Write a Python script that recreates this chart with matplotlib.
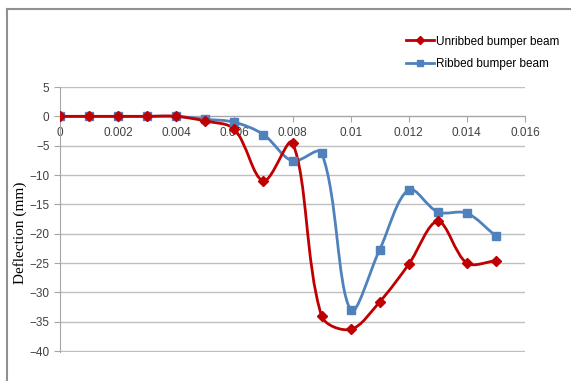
import numpy as np
import matplotlib.pyplot as plt
from matplotlib.path import Path
from matplotlib.patches import PathPatch
from matplotlib.lines import Line2D

# displacement / time values
x = [0, 0.001, 0.002, 0.003, 0.004, 0.005, 0.006, 0.007,
     0.008, 0.009, 0.010, 0.011, 0.012, 0.013, 0.014, 0.015]
unribbed = [0, 0, 0, 0, 0, -0.8, -2.2, -11.0,
            -4.5, -34.0, -36.3, -31.6, -25.2, -17.9, -25.0, -24.6]
ribbed = [0, 0, 0, 0, 0, -0.5, -1.0, -3.1,
          -7.6, -6.2, -33.0, -22.7, -12.5, -16.3, -16.5, -20.4]

yticks = [5, 0, -5, -10, -15, -20, -25, -30, -35, -40]
xticks = [0, 0.002, 0.004, 0.006, 0.008, 0.01, 0.012, 0.014, 0.016]

red = '#C00000'
blue = '#4F81BD'


def smooth_path(ax, xs, ys):
    # Excel-style smoothed line: bezier segments, tangent lengths weighted
    # by the on-screen segment lengths
    p = np.column_stack([xs, ys]).astype(float)
    s = ax.transData.transform(p)
    n = len(p)
    d = np.hypot(*np.diff(s, axis=0).T)
    verts = [p[0]]
    codes = [Path.MOVETO]
    for i in range(n - 1):
        if i > 0:
            c1 = p[i] + (p[i + 1] - p[i - 1]) * d[i] / (d[i - 1] + d[i]) / 3
        else:
            c1 = p[i] + (p[i + 1] - p[i]) / 3
        if i + 2 < n:
            c2 = p[i + 1] - (p[i + 2] - p[i]) * d[i] / (d[i] + d[i + 1]) / 3
        else:
            c2 = p[i + 1] - (p[i + 1] - p[i]) / 3
        verts += [c1, c2, p[i + 1]]
        codes += [Path.CURVE4] * 3
    return Path(verts, codes)


fig = plt.figure(figsize=(5.71, 3.81), dpi=100)
ax = fig.add_axes([60 / 571, 29 / 381, 465 / 571, 265 / 381])

ax.set_xlim(0, 0.016)
ax.set_ylim(-40.15, 5)

for ys, c, m in [(ribbed, blue, 's'), (unribbed, red, 'D')]:
    ax.add_patch(PathPatch(smooth_path(ax, x, ys), fill=False, edgecolor=c, lw=2, zorder=3))
    ax.plot(x, ys, ls='none', marker=m, color=c, ms=5.5, zorder=4)

ax.set_yticks(yticks)
ax.set_xticks(xticks)
ax.set_xticklabels(['0', '0.002', '0.004', '0.006', '0.008', '0.01', '0.012', '0.014', '0.016'])
ax.yaxis.grid(True, color='#BFBFBF', lw=1)
ax.set_axisbelow(True)

for sp in ['top', 'right']:
    ax.spines[sp].set_visible(False)
ax.spines['bottom'].set_position(('data', 0))
ax.spines['bottom'].set_color('#A6A6A6')
ax.spines['left'].set_color('#A6A6A6')
ax.tick_params(axis='both', colors='#A6A6A6', labelcolor='#404040', length=4,
               labelsize=8.5, labelfontfamily='Liberation Sans')
ax.tick_params(axis='x', pad=4)

ax.set_ylabel('Deflection (mm)', family='Liberation Serif', fontsize=11, color='black')
ax.yaxis.set_label_coords(-0.072, 0.45)

handles = [Line2D([], [], color=red, marker='D', ms=4, lw=2),
           Line2D([], [], color=blue, marker='s', ms=4, lw=2)]
fig.legend(handles, ['Unribbed bumper beam', 'Ribbed bumper beam'],
           loc='upper left', bbox_to_anchor=(395 / 571, 1 - 25 / 381),
           frameon=False, handlelength=2.4, handletextpad=0.15, labelspacing=0.85,
           prop={'family': 'Liberation Sans', 'size': 8.5})

# outer chart frame (top and left edges visible)
fig.add_artist(Line2D([6.5 / 571, 1], [1 - 8.5 / 381] * 2, color='#909090', lw=1.5))
fig.add_artist(Line2D([6.5 / 571] * 2, [0, 1 - 8.5 / 381], color='#909090', lw=1.5))

fig.savefig('out.png', dpi=100)
